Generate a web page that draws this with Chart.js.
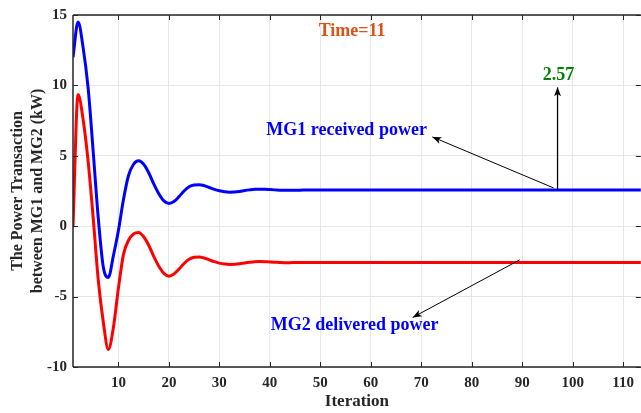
<!DOCTYPE html>
<html><head><meta charset="utf-8">
<script src="https://cdn.jsdelivr.net/npm/chart.js@4/dist/chart.umd.min.js"></script>
<style>html,body{margin:0;padding:0;background:#fff;overflow:hidden}#wrap{width:641px;height:413px;position:relative}</style>
</head><body><div id="wrap"><canvas id="c" width="641" height="413"></canvas></div>
<script>
// Iteration 1..114
const mg1Received = [
 12.0, 14.5, 12.7, 9.8, 5.3, 0.6, -2.9, -3.64, -2.1, -0.3,
 1.9, 3.6, 4.4, 4.65, 4.4, 3.8, 3.0, 2.3, 1.8, 1.62,
 1.75, 2.1, 2.5, 2.8, 2.93, 2.95, 2.88, 2.75, 2.62, 2.52,
 2.45, 2.42, 2.43, 2.47, 2.53, 2.58, 2.62, 2.63, 2.62, 2.6,
 2.58, 2.56, 2.55, 2.55, 2.56, 2.56, 2.57, 2.57, 2.57, 2.57,
 2.57, 2.57, 2.57, 2.57, 2.57, 2.57, 2.57, 2.57, 2.57, 2.57,
 2.57, 2.57, 2.57, 2.57, 2.57, 2.57, 2.57, 2.57, 2.57, 2.57,
 2.57, 2.57, 2.57, 2.57, 2.57, 2.57, 2.57, 2.57, 2.57, 2.57,
 2.57, 2.57, 2.57, 2.57, 2.57, 2.57, 2.57, 2.57, 2.57, 2.57,
 2.57, 2.57, 2.57, 2.57, 2.57, 2.57, 2.57, 2.57, 2.57, 2.57,
 2.57, 2.57, 2.57, 2.57, 2.57, 2.57, 2.57, 2.57, 2.57, 2.57,
 2.57, 2.57, 2.57, 2.57
];
const mg2Delivered = [
 0.0, 9.35, 7.6, 4.6, 0.6, -3.8, -6.8, -8.75, -7.2, -4.4,
 -2.0, -1.0, -0.55, -0.45, -0.75, -1.35, -2.15, -2.85, -3.35, -3.55,
 -3.4, -3.05, -2.65, -2.35, -2.21, -2.19, -2.26, -2.39, -2.52, -2.62,
 -2.69, -2.72, -2.71, -2.67, -2.61, -2.56, -2.52, -2.51, -2.52, -2.54,
 -2.56, -2.58, -2.59, -2.59, -2.58, -2.58, -2.57, -2.57, -2.57, -2.57,
 -2.57, -2.57, -2.57, -2.57, -2.57, -2.57, -2.57, -2.57, -2.57, -2.57,
 -2.57, -2.57, -2.57, -2.57, -2.57, -2.57, -2.57, -2.57, -2.57, -2.57,
 -2.57, -2.57, -2.57, -2.57, -2.57, -2.57, -2.57, -2.57, -2.57, -2.57,
 -2.57, -2.57, -2.57, -2.57, -2.57, -2.57, -2.57, -2.57, -2.57, -2.57,
 -2.57, -2.57, -2.57, -2.57, -2.57, -2.57, -2.57, -2.57, -2.57, -2.57,
 -2.57, -2.57, -2.57, -2.57, -2.57, -2.57, -2.57, -2.57, -2.57, -2.57,
 -2.57, -2.57, -2.57, -2.57
];
const xTickValues = [10, 20, 30, 40, 50, 60, 70, 80, 90, 100, 110];
const yTickValues = [-10, -5, 0, 5, 10, 15];
const xTitle = 'Iteration';
const yTitle = ['The Power Transaction', 'between MG1 and MG2 (kW)'];
const labelTime = 'Time=11';
const labelValue = '2.57';
const labelMG1 = 'MG1 received power';
const labelMG2 = 'MG2 delivered power';

const FONT = "'Liberation Serif', 'Times New Roman', serif";
const AX = '#262626';

function arrow(ctx, x1, y1, x2, y2, head, w) {
  ctx.beginPath(); ctx.moveTo(x1, y1); ctx.lineTo(x2, y2); ctx.stroke();
  const a = Math.atan2(y2 - y1, x2 - x1);
  ctx.save(); ctx.translate(x2, y2); ctx.rotate(a);
  ctx.beginPath(); ctx.moveTo(0, 0); ctx.lineTo(-head, -w); ctx.lineTo(-head * 0.75, 0); ctx.lineTo(-head, w); ctx.closePath(); ctx.fill();
  ctx.restore();
}

const framePlugin = {
  id: 'frame',
  afterDatasetsDraw(chart) {
    const {ctx, chartArea: ca, scales: {x, y}} = chart;
    ctx.save();
    ctx.strokeStyle = AX; ctx.lineWidth = 1.5;
    ctx.beginPath();
    ctx.moveTo(ca.left, ca.top); ctx.lineTo(ca.right, ca.top);
    ctx.moveTo(ca.left, ca.top); ctx.lineTo(ca.left, ca.bottom);
    ctx.moveTo(ca.left, ca.bottom); ctx.lineTo(ca.right, ca.bottom);
    ctx.stroke();
    ctx.lineWidth = 1;
    ctx.beginPath();
    const L = 5;
    xTickValues.forEach(v => {
      const px = Math.round(x.getPixelForValue(v)) + 0.5;
      ctx.moveTo(px, ca.top); ctx.lineTo(px, ca.top + L);
      ctx.moveTo(px, ca.bottom); ctx.lineTo(px, ca.bottom - L);
    });
    yTickValues.forEach(v => {
      const py = Math.round(y.getPixelForValue(v)) + 0.5;
      ctx.moveTo(ca.left, py); ctx.lineTo(ca.left + L, py);
      ctx.moveTo(ca.right, py); ctx.lineTo(ca.right - L, py);
    });
    ctx.stroke();

    // annotations
    ctx.strokeStyle = '#000'; ctx.fillStyle = '#000';
    ctx.lineWidth = 1;
    arrow(ctx, x.getPixelForValue(96.2), y.getPixelForValue(2.72), x.getPixelForValue(72.2), y.getPixelForValue(6.34), 9, 3.5);
    ctx.lineWidth = 1.3;
    arrow(ctx, x.getPixelForValue(97), y.getPixelForValue(2.57), x.getPixelForValue(97), y.getPixelForValue(9.86), 9, 3.5);
    ctx.lineWidth = 1;
    arrow(ctx, x.getPixelForValue(89.5), y.getPixelForValue(-2.39), x.getPixelForValue(68.3), y.getPixelForValue(-6.48), 9, 3.5);

    ctx.textAlign = 'center'; ctx.textBaseline = 'middle';
    ctx.font = "bold 18px " + FONT;
    ctx.fillStyle = '#d95319';
    ctx.fillText(labelTime, x.getPixelForValue(56.3), y.getPixelForValue(13.87));
    ctx.fillStyle = '#008000';
    ctx.fillText(labelValue, x.getPixelForValue(97.2), y.getPixelForValue(10.72));
    ctx.fillStyle = '#0000ff';
    ctx.fillText(labelMG1, x.getPixelForValue(55.2), y.getPixelForValue(6.83));
    ctx.fillText(labelMG2, x.getPixelForValue(56.8), y.getPixelForValue(-7.04));
    ctx.restore();
  }
};

const toXY = arr => arr.map((v, i) => ({x: i + 1, y: v}));

new Chart(document.getElementById('c'), {
  type: 'line',
  data: {
    datasets: [
      {label: labelMG1, data: toXY(mg1Received), borderColor: '#0000ff', borderWidth: 3, pointRadius: 0, cubicInterpolationMode: 'monotone', fill: false},
      {label: labelMG2, data: toXY(mg2Delivered), borderColor: '#ff0000', borderWidth: 3, pointRadius: 0, cubicInterpolationMode: 'monotone', fill: false}
    ]
  },
  options: {
    responsive: false, animation: false, devicePixelRatio: 1,
    layout: {padding: {top: 12, right: 0, left: 0, bottom: 0}},
    plugins: {legend: {display: false}, tooltip: {enabled: false}},
    scales: {
      x: {
        type: 'linear', min: 1, max: 113.5,
        afterBuildTicks: s => { s.ticks = xTickValues.map(v => ({value: v})); },
        afterFit: s => { s.height = 46; },
        grid: {color: '#e6e6e6', lineWidth: 1, drawTicks: false},
        border: {display: false},
        ticks: {padding: 7, color: AX, font: {family: FONT, size: 15, weight: 'bold'}, maxRotation: 0},
        title: {display: true, text: xTitle, color: AX, font: {family: FONT, size: 17, weight: 'bold'}, padding: {top: 0, bottom: 1}}
      },
      y: {
        type: 'linear', min: -10, max: 15,
        afterBuildTicks: s => { s.ticks = yTickValues.map(v => ({value: v})); },
        afterFit: s => { s.width = 73; },
        grid: {color: '#e6e6e6', lineWidth: 1, drawTicks: false},
        border: {display: false},
        ticks: {padding: 6, color: AX, font: {family: FONT, size: 15, weight: 'bold'}},
        title: {display: true, text: yTitle, color: AX, font: {family: FONT, size: 16, weight: 'bold', lineHeight: 1.3}, padding: {top: 7, bottom: 0}}
      }
    }
  },
  plugins: [framePlugin]
});
</script>
</body></html>
